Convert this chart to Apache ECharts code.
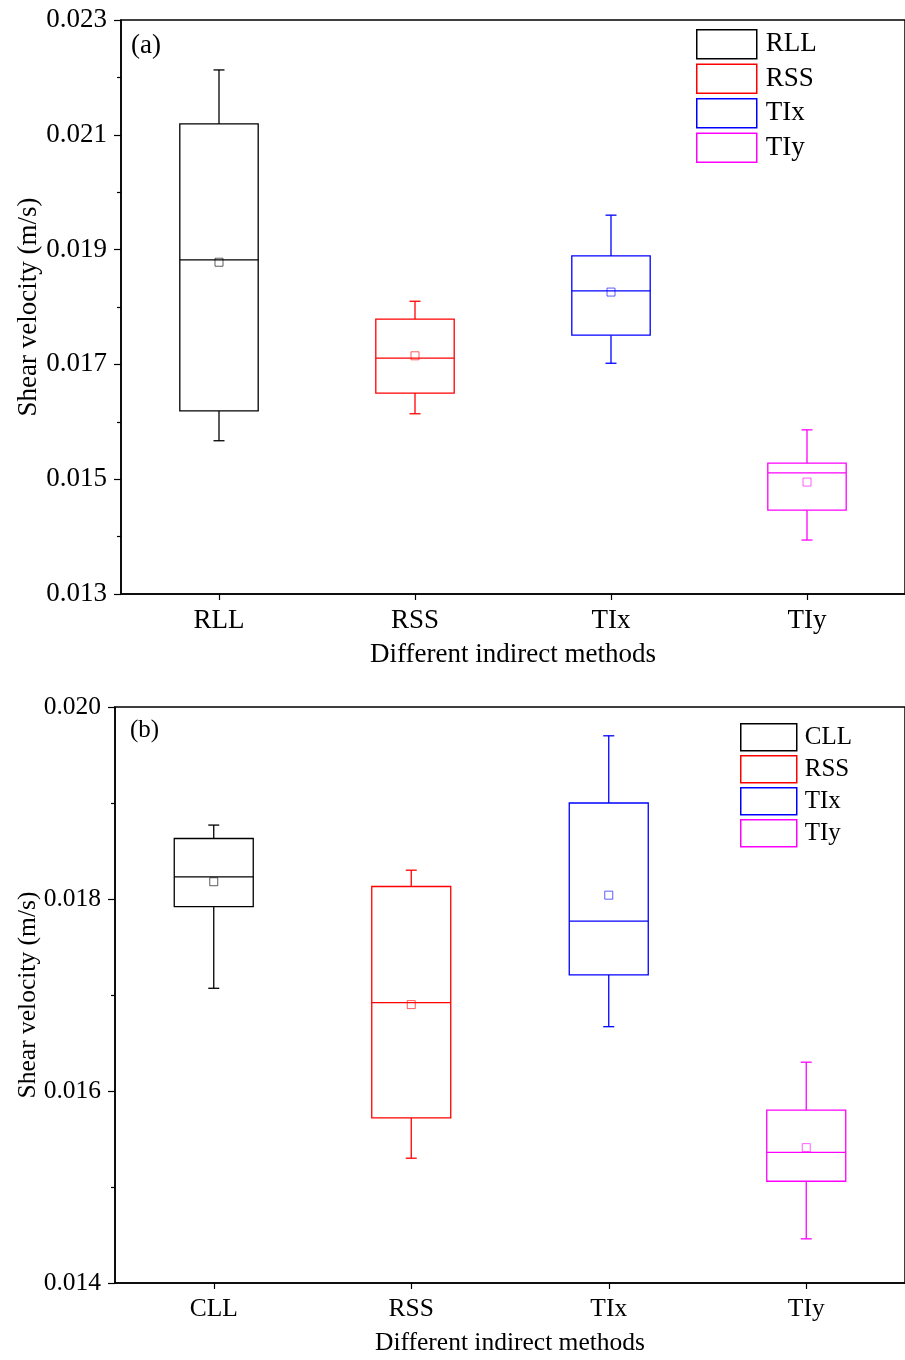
<!DOCTYPE html>
<html>
<head>
<meta charset="utf-8">
<script src="https://cdn.jsdelivr.net/npm/echarts@6/dist/echarts.min.js"></script>
<style>
  html, body { margin: 0; padding: 0; background: #fff; }
  #main { width: 905px; height: 1360px; }
</style>
</head>
<body>
<div id="main"></div>
<script>
(function() {
    // panel (a)
    var catsA = ['RLL', 'RSS', 'TIx', 'TIy'];
    // [low whisker, Q1, median, Q3, high whisker, mean]
    var statsA = [
        [0.01567, 0.01619, 0.01882, 0.02119, 0.02213, 0.01878],
        [0.01614, 0.01650, 0.01711, 0.01779, 0.01810, 0.01715],
        [0.01702, 0.01751, 0.01828, 0.01889, 0.01960, 0.01826],
        [0.01394, 0.01446, 0.01511, 0.01528, 0.01586, 0.01495]
    ];
    // panel (b)
    var catsB = ['CLL', 'RSS', 'TIx', 'TIy'];
    var statsB = [
        [0.01707, 0.01792, 0.01823, 0.01863, 0.01877, 0.01818],
        [0.01530, 0.01572, 0.01692, 0.01813, 0.01830, 0.01690],
        [0.01667, 0.01721, 0.01777, 0.01900, 0.01970, 0.01804],
        [0.01446, 0.01506, 0.01536, 0.01580, 0.01630, 0.01541]
    ];
    var colors = ['#000000', '#ff0000', '#0000ff', '#ff00ff'];
    var font = 'Liberation Serif';

    function renderBox(params, api) {
        var x = api.value(0);
        var low = api.coord([x, api.value(1)]);
        var q1 = api.coord([x, api.value(2)]);
        var med = api.coord([x, api.value(3)]);
        var q3 = api.coord([x, api.value(4)]);
        var high = api.coord([x, api.value(5)]);
        var mean = api.coord([x, api.value(6)]);
        var bw = api.size([1, 0])[0] * 0.4;
        var cx = low[0];
        var col = api.visual('color');
        var st = { stroke: col, lineWidth: 1.3, fill: null };
        return {
            type: 'group',
            children: [
                { type: 'line', shape: { x1: cx, y1: q3[1], x2: cx, y2: high[1] }, style: st },
                { type: 'line', shape: { x1: cx - 5.5, y1: high[1], x2: cx + 5.5, y2: high[1] }, style: st },
                { type: 'line', shape: { x1: cx, y1: q1[1], x2: cx, y2: low[1] }, style: st },
                { type: 'line', shape: { x1: cx - 5.5, y1: low[1], x2: cx + 5.5, y2: low[1] }, style: st },
                { type: 'rect', shape: { x: cx - bw / 2, y: q3[1], width: bw, height: q1[1] - q3[1] }, style: { stroke: col, lineWidth: 1.3, fill: '#fff' } },
                { type: 'line', shape: { x1: cx - bw / 2, y1: med[1], x2: cx + bw / 2, y2: med[1] }, style: st },
                { type: 'rect', shape: { x: cx - 4, y: mean[1] - 4, width: 8, height: 8 }, style: { stroke: col, lineWidth: 0.8, fill: 'none', opacity: 0.8 } }
            ]
        };
    }

    function makeSeries(cats, stats, idx) {
        return cats.map(function(c, i) {
            return {
                type: 'custom',
                name: c,
                xAxisIndex: idx,
                yAxisIndex: idx,
                itemStyle: { color: colors[i] },
                renderItem: renderBox,
                encode: { x: 0, y: [1, 2, 3, 4, 5, 6] },
                data: [[i].concat(stats[i])]
            };
        });
    }

    function legendData(cats) {
        return cats.map(function(c, i) {
            return { name: c, icon: 'rect', itemStyle: { color: '#fff', borderColor: colors[i], borderWidth: 1.5 } };
        });
    }

    function yAxis(idx, min, max, fs, gap) {
        return {
            type: 'value', gridIndex: idx, min: min, max: max, interval: 0.002,
            name: 'Shear velocity (m/s)', nameLocation: 'middle', nameGap: gap,
            nameMoveOverlap: false,
            nameTextStyle: { fontFamily: font, fontSize: fs, color: '#000' },
            axisLine: { show: true, lineStyle: { color: '#000', width: 1.5 } },
            axisTick: { show: true, inside: false, length: 7, lineStyle: { color: '#000', width: 1.2 } },
            minorTick: { show: true, splitNumber: 2, length: 4, lineStyle: { color: '#000', width: 1.2 } },
            splitLine: { show: false },
            axisLabel: { fontFamily: font, fontSize: fs, color: '#000', margin: 14,
                formatter: function(v) { return v.toFixed(3); } }
        };
    }

    function xAxis(idx, cats, fs) {
        return {
            type: 'category', gridIndex: idx, data: cats,
            name: 'Different indirect methods', nameLocation: 'middle', nameGap: 47,
            nameMoveOverlap: false,
            nameTextStyle: { fontFamily: font, fontSize: fs, color: '#000' },
            axisLine: { show: true, lineStyle: { color: '#000', width: 1.5 } },
            axisTick: { show: true, alignWithLabel: true, length: 6, lineStyle: { color: '#000', width: 1.2 } },
            axisLabel: { fontFamily: font, fontSize: fs, color: '#000', margin: 13 },
            splitLine: { show: false }
        };
    }

    var myChart = echarts.init(document.getElementById('main'));
    var option = {
        backgroundColor: '#fff',
        animation: false,
        title: [
            { text: '(a)', left: 126, top: 27, textStyle: { fontFamily: font, fontSize: 27, fontWeight: 'normal', color: '#000' } },
            { text: '(b)', left: 125, top: 713, textStyle: { fontFamily: font, fontSize: 25, fontWeight: 'normal', color: '#000' } }
        ],
        legend: [
            {
                orient: 'vertical', left: 696, top: 29, padding: 0, itemWidth: 60, itemHeight: 29, itemGap: 4,
                selectedMode: false, data: legendData(catsA),
                textStyle: { fontFamily: font, fontSize: 27, lineHeight: 29, color: '#000', padding: [0, 0, 0, 4] }
            },
            {
                orient: 'vertical', left: 740, top: 723, padding: 0, itemWidth: 56, itemHeight: 27, itemGap: 3.5,
                selectedMode: false, data: legendData(catsB),
                textStyle: { fontFamily: font, fontSize: 25, lineHeight: 27, color: '#000', padding: [0, 0, 0, 3] }
            }
        ],
        grid: [
            { left: 121, top: 20, width: 788, height: 574, show: true, borderColor: '#000', borderWidth: 1.5, backgroundColor: 'transparent' },
            { left: 115, top: 707, width: 792, height: 576, show: true, borderColor: '#000', borderWidth: 1.5, backgroundColor: 'transparent' }
        ],
        xAxis: [xAxis(0, catsA, 27), xAxis(1, catsB, 25.5)],
        yAxis: [yAxis(0, 0.013, 0.023, 27, 79), yAxis(1, 0.014, 0.020, 25.5, 74)],
        series: makeSeries(catsA, statsA, 0).concat(makeSeries(catsB, statsB, 1))
    };

    myChart.setOption(option);
    window.addEventListener('resize', function() {
        myChart.resize();
    });
})();
</script>
</body>
</html>
